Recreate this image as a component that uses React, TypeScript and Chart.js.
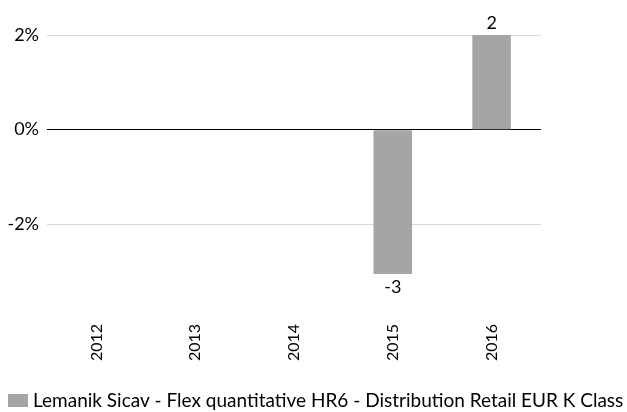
import React, { useEffect, useRef } from "react";
import { Chart, registerables } from "chart.js";

Chart.register(...registerables);

const categories = ["2012", "2013", "2014", "2015", "2016"];
const values: (number | null)[] = [null, null, null, -3.05, 2.0];
const valueLabels = ["", "", "", "-3", "2"];
const yTicks = [-2, 0, 2];
const seriesName = "Lemanik Sicav - Flex quantitative HR6 - Distribution Retail EUR K Class";
const barColor = "#a5a5a5";

const FONT = "Lato, 'Open Sans', sans-serif";

const labelPlugin = {
  id: "valueLabels",
  afterDatasetsDraw(chart: any) {
    const ctx = chart.ctx;
    const meta = chart.getDatasetMeta(0);
    ctx.save();
    ctx.font = `18px ${FONT}`;
    ctx.fillStyle = "#000";
    ctx.textAlign = "center";
    meta.data.forEach((bar: any, i: number) => {
      const v = values[i];
      if (v === null || v === undefined) return;
      if (v >= 0) {
        ctx.textBaseline = "bottom";
        ctx.fillText(valueLabels[i], bar.x, bar.y - 3);
      } else {
        ctx.textBaseline = "top";
        ctx.fillText(valueLabels[i], bar.x, bar.y + 4);
      }
    });
    ctx.restore();
  },
};

const legendPlugin = {
  id: "customLegend",
  afterDraw(chart: any) {
    const ctx = chart.ctx;
    const h = chart.height;
    ctx.save();
    ctx.fillStyle = barColor;
    ctx.fillRect(8, h - 18, 20, 13);
    ctx.fillStyle = "#000";
    ctx.font = `19px ${FONT}`;
    ctx.textAlign = "left";
    ctx.textBaseline = "middle";
    ctx.fillText(seriesName, 33, h - 11);
    ctx.restore();
  },
};

export default function App() {
  const ref = useRef<HTMLCanvasElement>(null);
  useEffect(() => {
    document.body.style.margin = "0";
    const chart = new Chart(ref.current!, {
      type: "bar",
      data: {
        labels: categories,
        datasets: [
          {
            label: seriesName,
            data: values,
            backgroundColor: barColor,
            borderWidth: 0,
            categoryPercentage: 1,
            barPercentage: 0.39,
          },
        ],
      },
      options: {
        animation: false,
        responsive: false,
        maintainAspectRatio: false,
        layout: { padding: { top: 35, right: 86, left: 0, bottom: 31 } },
        plugins: {
          tooltip: { enabled: false },
          legend: { display: false },
        },
        scales: {
          x: {
            grid: { display: false },
            border: { display: false },
            ticks: {
              color: "#000",
              font: { family: FONT, size: 16 },
              minRotation: 90,
              maxRotation: 90,
              padding: -3,
            },
            afterFit(scale: any) {
              scale.height = 62;
            },
          },
          y: {
            min: -4,
            max: 2,
            afterBuildTicks(scale: any) {
              scale.ticks = yTicks.map((v) => ({ value: v }));
            },
            border: { display: false },
            grid: {
              drawTicks: false,
              color: (c: any) => (c.tick && c.tick.value === 0 ? "#000" : "#d9d9d9"),
              lineWidth: 1,
            },
            ticks: {
              color: "#000",
              font: { family: FONT, size: 18 },
              padding: 8,
              callback: (v: any) => `${v}%`,
            },
            afterFit(scale: any) {
              scale.width = 47;
            },
          },
        },
      },
      plugins: [labelPlugin, legendPlugin],
    });
    return () => chart.destroy();
  }, []);
  return <canvas ref={ref} width={627} height={412} style={{ display: "block" }} />;
}
